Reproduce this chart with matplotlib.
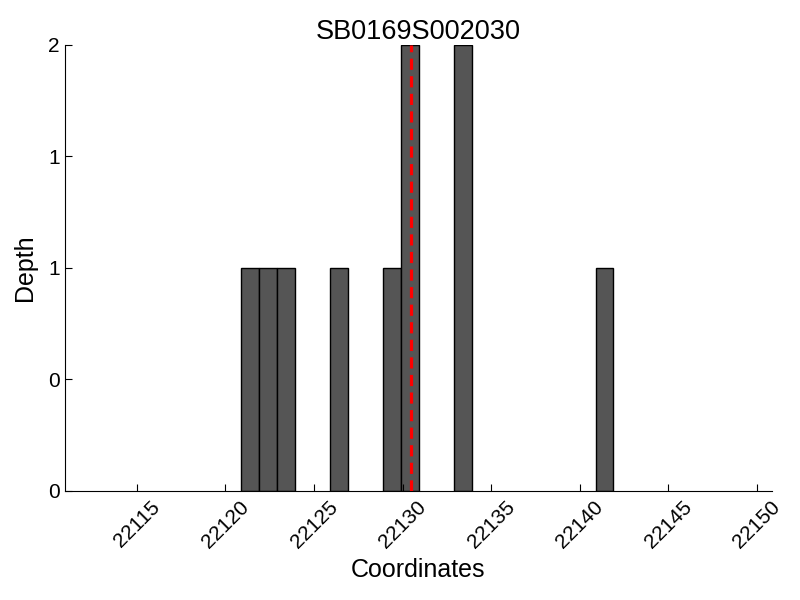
import matplotlib
matplotlib.use("Agg")
import matplotlib.pyplot as plt
from matplotlib.ticker import FormatStrFormatter

plt.rcParams['font.family'] = ['Liberation Sans', 'DejaVu Sans']

title = "SB0169S002030"
bin_lefts = [22120.9, 22121.9, 22122.9, 22125.9, 22128.9, 22129.9, 22132.9, 22140.9]
depths = [1, 1, 1, 1, 1, 2, 2, 1]
bin_width = 1.0
marker_x = 22130.45
xticks = [22115, 22120, 22125, 22130, 22135, 22140, 22145, 22150]
yticks = [0, 0.5, 1, 1.5, 2]

fig = plt.figure(figsize=(8, 6), dpi=100)
ax = fig.add_axes([0.081, 0.182, 0.884, 0.743])
ax.bar(bin_lefts, depths, width=bin_width, align='edge', color='#555555',
       edgecolor='black', linewidth=1.0)
ax.plot([marker_x, marker_x], [0, 2], color='red', linewidth=2.3,
        dashes=(3.5, 2.0), zorder=5)
ax.set_xlim(22110.93, 22150.85)
ax.set_ylim(0, 2)
ax.set_xticks(xticks)
ax.set_yticks(yticks)
ax.yaxis.set_major_formatter(FormatStrFormatter('%d'))
ax.tick_params(direction='in', labelsize=15, length=5)
ax.tick_params(axis='x', pad=5)
plt.setp(ax.get_xticklabels(), rotation=45, ha='center')
for s in ['top', 'right']:
    ax.spines[s].set_visible(False)
ax.set_xlabel('Coordinates', fontsize=18, labelpad=4)
ax.set_ylabel('Depth', fontsize=18, labelpad=8)
ax.set_title(title, fontsize=19.5, pad=4)
fig.savefig('out.png', dpi=100)
